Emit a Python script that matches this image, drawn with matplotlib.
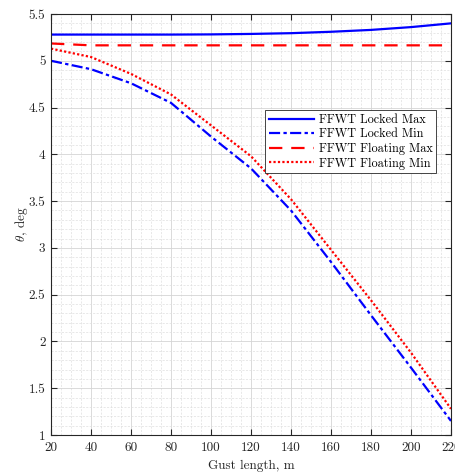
import matplotlib
matplotlib.use("Agg")
import matplotlib.pyplot as plt
from matplotlib.ticker import MultipleLocator

plt.rcParams['font.family'] = 'cmr10'
plt.rcParams['mathtext.fontset'] = 'cm'
plt.rcParams['axes.formatter.use_mathtext'] = True

gust = [20, 40, 60, 80, 100, 120, 140, 160, 180, 200, 220]
locked_max = [5.28, 5.28, 5.28, 5.28, 5.282, 5.287, 5.295, 5.31, 5.33, 5.36, 5.40]
locked_min = [5.00, 4.91, 4.76, 4.55, 4.19, 3.85, 3.40, 2.85, 2.28, 1.72, 1.15]
floating_max = [5.185, 5.165, 5.165, 5.165, 5.165, 5.165, 5.165, 5.165, 5.165, 5.165, 5.165]
floating_min = [5.13, 5.04, 4.86, 4.64, 4.31, 3.98, 3.52, 2.98, 2.44, 1.88, 1.28]

xticks = [20, 40, 60, 80, 100, 120, 140, 160, 180, 200, 220]
yticks = [1, 1.5, 2, 2.5, 3, 3.5, 4, 4.5, 5, 5.5]

fig = plt.figure(figsize=(4.56, 4.76), dpi=100)
ax = fig.add_axes([51/456, 41/476, 400/456, 421/476])

ax.plot(gust, locked_max, color='#0000ff', ls='-', lw=1.6, label='FFWT Locked Max')
ax.plot(gust, locked_min, color='#0000ff', ls=(0, (5, 1.5, 1.5, 1.5)), lw=1.6, label='FFWT Locked Min')
ax.plot(gust, floating_max, color='#ff0000', ls=(0, (6, 4)), lw=1.6, label='FFWT Floating Max')
ax.plot(gust, floating_min, color='#ff0000', ls=(0, (1, 1)), lw=1.6, label='FFWT Floating Min')

ax.set_xlim(20, 220)
ax.set_ylim(1, 5.5)
ax.set_xticks(xticks)
ax.set_yticks(yticks)
ax.set_xticklabels([str(v) for v in xticks])
ax.set_yticklabels([('%g' % v) for v in yticks])
ax.xaxis.set_minor_locator(MultipleLocator(5))
ax.yaxis.set_minor_locator(MultipleLocator(0.1))

ax.grid(True, which='major', color='#d4d4d4', lw=0.6)
ax.grid(True, which='minor', color='#dedede', lw=0.5, ls=(0, (3, 2)))
ax.set_axisbelow(True)

ax.tick_params(which='both', direction='in', top=True, right=True, labelsize=9.5, colors='#262626', labelcolor='#262626')
ax.tick_params(which='major', length=4)
ax.tick_params(axis='x', which='major', pad=5)
ax.tick_params(axis='y', which='major', pad=4)
ax.tick_params(which='minor', length=0)
for s in ax.spines.values():
    s.set_color('#262626')
    s.set_linewidth(0.8)

ax.set_xlabel('Gust length, m', fontsize=9.5, color='#262626', labelpad=4)
ax.set_ylabel(r'$\theta$, deg', fontsize=9.5, color='#262626', labelpad=-1)

leg = ax.legend(loc='upper left', bbox_to_anchor=(214.5/400, (435-110)/421), fontsize=8.8,
                frameon=True, fancybox=False, edgecolor='#262626', framealpha=1,
                handlelength=3.7, borderpad=0.3, labelspacing=0.2, handletextpad=0.35, borderaxespad=0)
leg.get_frame().set_linewidth(0.6)

fig.savefig('out.png', dpi=100)
